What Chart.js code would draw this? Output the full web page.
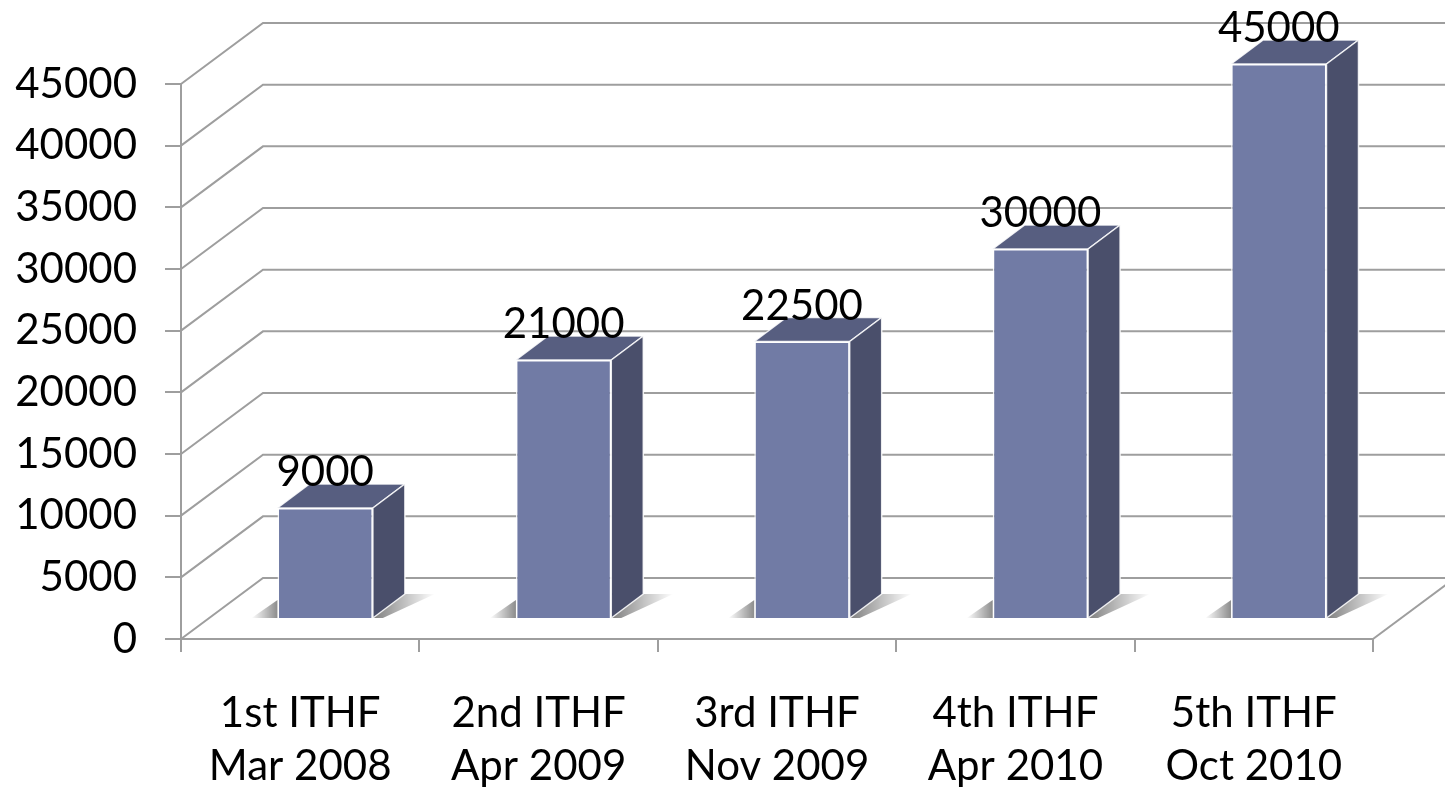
<!DOCTYPE html>
<html>
<head>
<meta charset="utf-8">
<script src="https://cdn.jsdelivr.net/npm/chart.js@4/dist/chart.umd.min.js"></script>
<style>
  html, body { margin: 0; padding: 0; background: #ffffff; }
  #wrap { width: 1445px; height: 791px; }
</style>
</head>
<body>
<div id="wrap"><canvas id="c" width="1445" height="791"></canvas></div>
<script>
// ---- data ----
const categories = [
  ['1st ITHF', 'Mar 2008'],
  ['2nd ITHF', 'Apr 2009'],
  ['3rd ITHF', 'Nov 2009'],
  ['4th ITHF', 'Apr 2010'],
  ['5th ITHF', 'Oct 2010']
];
const attendance = [9000, 21000, 22500, 30000, 45000];
const yMin = 0;
const yMax = 45000;
const yStep = 5000;

// ---- style ----
const FONT = 'Lato, "Open Sans", sans-serif';
const GRID = '#9e9e9e';
const FRONT = '#717ba5';
const TOP = '#575e80';
const SIDE = '#4a4f6b';
const WALL_DX = 82, WALL_DY = 61;   // depth of the 3D box
const BAR_SX = 25, BAR_SY = 20;     // bar front plane offset inside the box
const BAR_DX = 32, BAR_DY = 24;     // bar depth

const threeD = {
  id: 'threeD',
  beforeDatasetsDraw(chart) {
    const ctx = chart.ctx;
    const { left, right, bottom } = chart.chartArea;
    const y = chart.scales.y;
    ctx.save();
    ctx.strokeStyle = GRID;
    ctx.lineWidth = 2;
    y.ticks.forEach(t => {
      const py = y.getPixelForValue(t.value);
      ctx.beginPath();
      ctx.moveTo(left, py);
      ctx.lineTo(left + WALL_DX, py - WALL_DY);
      ctx.lineTo(right + WALL_DX, py - WALL_DY);
      ctx.stroke();
    });
    ctx.beginPath();
    ctx.moveTo(right, bottom);
    ctx.lineTo(right + WALL_DX, bottom - WALL_DY);
    ctx.stroke();
    // floor shadows
    const meta = chart.getDatasetMeta(0);
    meta.data.forEach(el => {
      const p = el.getProps(['x', 'width', 'base'], true);
      const xl = p.x - p.width / 2 + BAR_SX;
      const xr = p.x + p.width / 2 + BAR_SX;
      const yb = p.base - BAR_SY;
      let g = ctx.createLinearGradient(xl - 26, 0, xl, 0);
      g.addColorStop(0, 'rgba(0,0,0,0)');
      g.addColorStop(1, 'rgba(0,0,0,0.45)');
      ctx.fillStyle = g;
      ctx.beginPath();
      ctx.moveTo(xl - 26, yb);
      ctx.lineTo(xl, yb);
      ctx.lineTo(xl, yb - 18);
      ctx.closePath();
      ctx.fill();
      g = ctx.createLinearGradient(xr, 0, xr + BAR_DX + 30, 0);
      g.addColorStop(0, 'rgba(0,0,0,0.5)');
      g.addColorStop(1, 'rgba(0,0,0,0)');
      ctx.fillStyle = g;
      ctx.beginPath();
      ctx.moveTo(xr, yb);
      ctx.lineTo(xr + BAR_DX, yb - BAR_DY);
      ctx.lineTo(xr + BAR_DX + 30, yb - BAR_DY);
      ctx.lineTo(xr + 10, yb);
      ctx.closePath();
      ctx.fill();
    });
    ctx.restore();
    ctx.save();
    ctx.translate(BAR_SX, -BAR_SY);
  },
  afterDatasetsDraw(chart) {
    const ctx = chart.ctx;
    ctx.restore();
    const meta = chart.getDatasetMeta(0);
    const data = chart.data.datasets[0].data;
    ctx.save();
    ctx.lineWidth = 1.5;
    ctx.strokeStyle = 'rgba(255,255,255,0.85)';
    ctx.lineJoin = 'round';
    meta.data.forEach((el, i) => {
      const p = el.getProps(['x', 'y', 'width', 'base'], true);
      const xl = p.x - p.width / 2 + BAR_SX;
      const xr = p.x + p.width / 2 + BAR_SX;
      const yt = p.y - BAR_SY;
      const yb = p.base - BAR_SY;
      // top
      ctx.fillStyle = TOP;
      ctx.beginPath();
      ctx.moveTo(xl, yt);
      ctx.lineTo(xl + BAR_DX, yt - BAR_DY);
      ctx.lineTo(xr + BAR_DX, yt - BAR_DY);
      ctx.lineTo(xr, yt);
      ctx.closePath();
      ctx.fill();
      ctx.stroke();
      // side
      ctx.fillStyle = SIDE;
      ctx.beginPath();
      ctx.moveTo(xr, yt);
      ctx.lineTo(xr + BAR_DX, yt - BAR_DY);
      ctx.lineTo(xr + BAR_DX, yb - BAR_DY);
      ctx.lineTo(xr, yb);
      ctx.closePath();
      ctx.fill();
      ctx.stroke();
      // label
      ctx.fillStyle = '#000000';
      ctx.font = '42px ' + FONT;
      ctx.textAlign = 'center';
      ctx.textBaseline = 'alphabetic';
      ctx.fillText(String(data[i]), (xl + xr) / 2, yt - BAR_DY + 2);
    });
    ctx.restore();
  }
};

new Chart(document.getElementById('c'), {
  type: 'bar',
  data: {
    labels: categories,
    datasets: [{
      data: attendance,
      backgroundColor: FRONT,
      borderColor: 'rgba(255,255,255,0.85)',
      borderWidth: 1.5,
      barPercentage: 0.4,
      categoryPercentage: 1.0,
      clip: false
    }]
  },
  options: {
    responsive: false,
    animation: false,
    devicePixelRatio: 1,
    layout: { padding: { top: 84, right: 72, left: 0, bottom: 0 } },
    plugins: { legend: { display: false }, tooltip: { enabled: false } },
    scales: {
      x: {
        offset: true,
        grid: { offset: true, drawOnChartArea: false, drawTicks: true, tickLength: 13, color: GRID, lineWidth: 2 },
        border: { display: true, color: GRID, width: 2 },
        ticks: { color: '#000', font: { family: FONT, size: 42, lineHeight: 1.26 }, padding: 35, maxRotation: 0, autoSkip: false },
        afterFit(s) { s.height = 152; }
      },
      y: {
        min: yMin, max: yMax,
        grid: { drawOnChartArea: false, drawTicks: true, tickLength: 16, color: GRID, lineWidth: 2 },
        border: { display: true, color: GRID, width: 2 },
        ticks: { stepSize: yStep, color: '#000', font: { family: FONT, size: 42 }, padding: 28,
                 callback: v => String(v) },
        afterFit(s) { s.width = 181; }
      }
    }
  },
  plugins: [threeD]
});
</script>
</body>
</html>
